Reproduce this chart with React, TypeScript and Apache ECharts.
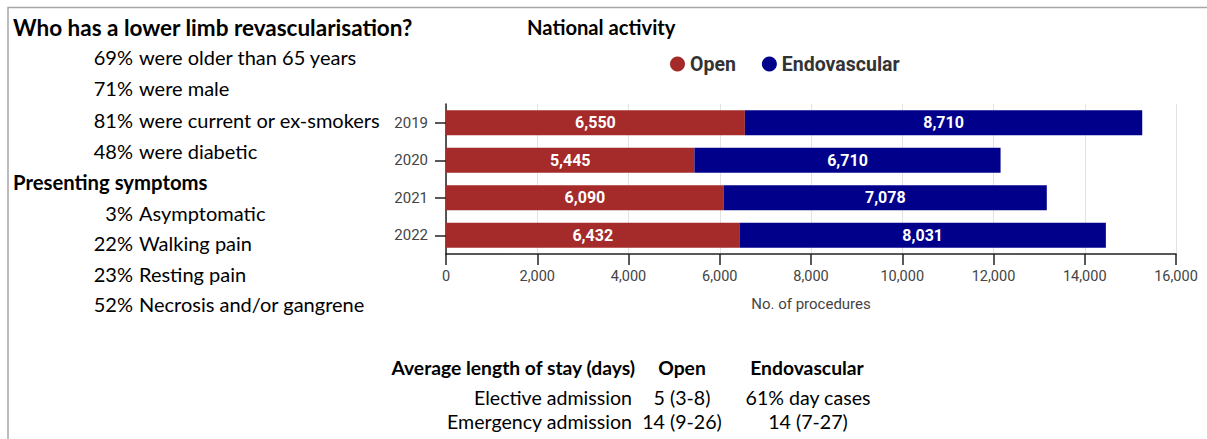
import React, { useEffect, useRef } from "react";
import * as echarts from "echarts";

const years = ["2019", "2020", "2021", "2022"];
const openValues = [6550, 5445, 6090, 6432];
const endoValues = [8710, 6710, 7078, 8031];
const seriesNames = ["Open", "Endovascular"];
const axisMax = 16000;
const axisInterval = 2000;
const axisName = "No. of procedures";

const leftTitle = "Who has a lower limb revascularisation?";
const profilePct = ["69%", "71%", "81%", "48%"];
const profileText = ["were older than 65 years", "were male", "were current or ex-smokers", "were diabetic"];
const symptomsTitle = "Presenting symptoms";
const symptomPct = ["3%", "22%", "23%", "52%"];
const symptomText = ["Asymptomatic", "Walking pain", "Resting pain", "Necrosis and/or gangrene"];

const chartTitle = "National activity";
const losHeader = ["Average length of stay (days)", "Open", "Endovascular"];
const losRowLabels = ["Elective admission", "Emergency admission"];
const losOpen = ["5 (3-8)", "14 (9-26)"];
const losEndo = ["61% day cases", "14 (7-27)"];

const FONT = "Lato, 'Open Sans', sans-serif";
const CFONT = "Roboto, sans-serif";

export default function App() {
  const ref = useRef<HTMLDivElement>(null);
  useEffect(() => {
    if (!ref.current) return;
    const chart = echarts.init(ref.current, null, { renderer: "svg" });
    const txt = (text: string, x: number, y: number, opts: any = {}) => ({
      type: "text",
      x,
      y,
      silent: true,
      style: {
        text,
        fontFamily: FONT,
        fontSize: opts.size ?? 20,
        fontWeight: opts.bold ? "bold" : "normal",
        fill: "#000",
        align: opts.align ?? "left",
        verticalAlign: "middle",
      },
    });
    const graphics: any[] = [];
    graphics.push({
      type: "polyline",
      silent: true,
      shape: { points: [[8, 439], [8, 7.5], [1207, 7.5]] },
      style: { stroke: "#a6a6a6", lineWidth: 1.5, fill: null },
    });
    graphics.push(txt(leftTitle, 13, 27, { bold: true, size: 22.5 }));
    profilePct.forEach((p, i) => {
      const y = 57 + i * 31.3;
      graphics.push(txt(p, 133, y, { align: "right" }));
      graphics.push(txt(profileText[i], 139, y));
    });
    graphics.push(txt(symptomsTitle, 13, 182, { bold: true, size: 20.3 }));
    symptomPct.forEach((p, i) => {
      const y = 213 + i * 30.3;
      graphics.push(txt(p, 133, y, { align: "right" }));
      graphics.push(txt(symptomText[i], 139, y));
    });
    graphics.push(txt(chartTitle, 527, 27, { bold: true, size: 20.2 }));
    graphics.push(txt(losHeader[0], 635, 367, { bold: true, align: "right", size: 19.3 }));
    graphics.push(txt(losHeader[1], 682, 367, { bold: true, align: "center", size: 19.3 }));
    graphics.push(txt(losHeader[2], 807, 367, { bold: true, align: "center", size: 19.3 }));
    losRowLabels.forEach((l, i) => {
      const y = 397 + i * 24.5;
      graphics.push(txt(l, 632, y, { align: "right", size: 19.6 }));
      graphics.push(txt(losOpen[i], 682, y, { align: "center", size: 19.6 }));
      graphics.push(txt(losEndo[i], 808, y, { align: "center", size: 19.6 }));
    });

    const labelCfg = {
      show: true,
      position: "inside",
      color: "#fff",
      fontFamily: CFONT,
      fontWeight: "bold",
      fontSize: 16,
      formatter: (p: any) => Number(p.value).toLocaleString("en-GB"),
    };

    chart.setOption({
      animation: false,
      graphic: graphics,
      legend: {
        left: 665,
        top: 49,
        itemWidth: 15,
        itemHeight: 15,
        itemGap: 26,
        icon: "circle",
        textStyle: { fontFamily: CFONT, fontWeight: "bold", fontSize: 19.5, color: "#333" },
        data: seriesNames,
      },
      grid: { left: 446, right: 31, top: 104, bottom: 185, containLabel: false },
      xAxis: {
        type: "value",
        min: 0,
        max: axisMax,
        interval: axisInterval,
        name: axisName,
        nameLocation: "middle",
        nameGap: 42,
        nameTextStyle: { fontFamily: CFONT, fontSize: 15, color: "#444" },
        axisLine: { show: true, lineStyle: { color: "#222", width: 1.5 } },
        axisTick: { show: true, length: 11, lineStyle: { color: "#222", width: 1.5 } },
        axisLabel: {
          fontFamily: CFONT,
          fontSize: 14.5,
          color: "#444",
          margin: 15,
          formatter: (v: number) => v.toLocaleString("en-GB"),
        },
        splitLine: { show: true, lineStyle: { color: "#e3e3e3", width: 1 } },
      },
      yAxis: {
        type: "category",
        data: years,
        inverse: true,
        axisLine: { show: true, lineStyle: { color: "#222", width: 1.5 } },
        axisTick: { show: true, alignWithLabel: true, length: 11, lineStyle: { color: "#222", width: 1.5 } },
        axisLabel: { fontFamily: CFONT, fontSize: 15, color: "#444", margin: 18 },
      },
      series: [
        {
          name: seriesNames[0],
          type: "bar",
          stack: "total",
          data: openValues,
          barCategoryGap: "33%",
          itemStyle: { color: "#a52a2a" },
          label: labelCfg,
        },
        {
          name: seriesNames[1],
          type: "bar",
          stack: "total",
          data: endoValues,
          barCategoryGap: "33%",
          itemStyle: { color: "#00008b" },
          label: labelCfg,
        },
      ],
    });
    return () => chart.dispose();
  }, []);
  return (
    <div
      ref={ref}
      style={{ position: "fixed", left: 0, top: 0, width: 1207, height: 439, background: "#fff" }}
    />
  );
}
